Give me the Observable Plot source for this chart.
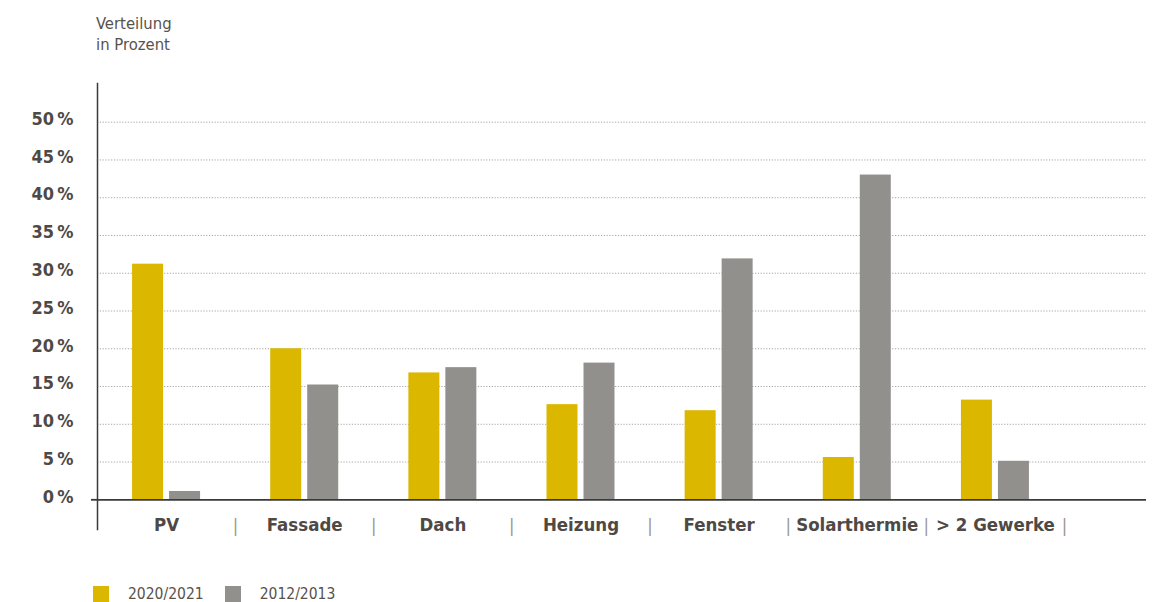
<!DOCTYPE html>
<html>
<head>
<meta charset="utf-8">
<script src="https://cdn.jsdelivr.net/npm/d3@7"></script>
<script src="https://cdn.jsdelivr.net/npm/@observablehq/plot@0.6"></script>
<style>
  html, body { margin: 0; padding: 0; background: #fff; }
  body { width: 1153px; height: 602px; overflow: hidden; font-family: "DejaVu Sans Condensed", sans-serif; color: #4e4945; }
  #title { height: 64px; box-sizing: border-box; padding-top: 13px; padding-left: 96px; font-size: 16.5px; line-height: 21px; color: #58524e; }
  #chart svg { display: block; }
  #legend { position: absolute; top: 586px; left: 93px; display: flex; align-items: center; font-size: 15.5px; line-height: 16px; height: 16px; color: #58524e; }
  .sw { width: 16px; height: 16px; display: inline-block; }
  .lab { margin-left: 19px; margin-right: 21px; }
</style>
</head>
<body>
<div id="title">Verteilung<br>in Prozent</div>
<div id="chart"></div>
<div id="legend"></div>
<script>
const categories = ["PV", "Fassade", "Dach", "Heizung", "Fenster", "Solarthermie", "> 2 Gewerke"];
const series = ["2020/2021", "2012/2013"];
const values2020 = [31.2, 20.0, 16.8, 12.6, 11.8, 5.6, 13.2];
const values2012 = [1.1, 15.2, 17.5, 18.1, 31.9, 43.0, 5.1];
const yTicks = [0, 5, 10, 15, 20, 25, 30, 35, 40, 45, 50];
const colors = ["#dbb700", "#92908c"];

const data2020 = categories.map((c, i) => ({cat: c, v: values2020[i], s: series[0]}));
const data2012 = categories.map((c, i) => ({cat: c, v: values2012[i], s: series[1]}));

const font = '"DejaVu Sans Condensed", sans-serif';
const textCol = "#4e4945";

const chart = Plot.plot({
  width: 1153,
  height: 480,
  marginLeft: 97,
  marginRight: 7,
  marginTop: 19,
  marginBottom: 15,
  style: {fontFamily: font, fontSize: "18px", background: "transparent", color: textCol},
  x: {domain: categories, range: [97, 1064], paddingInner: 0.7756, paddingOuter: 0.3878, round: false, label: null},
  y: {domain: [0, 50], range: [435.3, 57.7], label: null},
  marks: [
    Plot.gridY(yTicks.filter(d => d > 0), {stroke: "#a5a5a5", strokeOpacity: 1, strokeWidth: 1, strokeDasharray: "1.2,1.6"}),
    Plot.barY(data2020, {x: "cat", y: "v", fill: colors[0], dx: -18.5}),
    Plot.barY(data2012, {x: "cat", y: "v", fill: colors[1], dx: 18.5}),
    Plot.ruleY([0], {stroke: "#3a3a3a", strokeWidth: 1.8}),
    Plot.axisY([0], {tickSize: 6, tickFormat: () => "", label: null, stroke: "#3a3a3a", strokeWidth: 1.8}),
    Plot.frame({anchor: "left", stroke: "#3a3a3a", strokeWidth: 1.5}),
    Plot.axisY(yTicks, {tickSize: 0, tickPadding: 24, tickFormat: d => d + "\u2009%", dy: -3, label: null,
      fontWeight: "bold", fontSize: 18, fill: textCol}),
    Plot.axisX({tickSize: 0, tickPadding: 0, lineAnchor: "middle", dy: -4.5, label: null,
      fontWeight: "bold", fontSize: 18.5, fill: textCol}),
    Plot.axisX({tickSize: 0, tickPadding: 0, lineAnchor: "middle", dy: -3.5, dx: 69, label: null,
      tickFormat: () => "|", fontWeight: "normal", fontSize: 18, fill: "#9a9590"})
  ]
});
document.getElementById("chart").appendChild(chart);

const legend = document.getElementById("legend");
series.forEach((s, i) => {
  const sw = document.createElement("span");
  sw.className = "sw";
  sw.style.background = colors[i];
  const lab = document.createElement("span");
  lab.className = "lab";
  lab.textContent = s;
  legend.appendChild(sw);
  legend.appendChild(lab);
});
</script>
</body>
</html>
